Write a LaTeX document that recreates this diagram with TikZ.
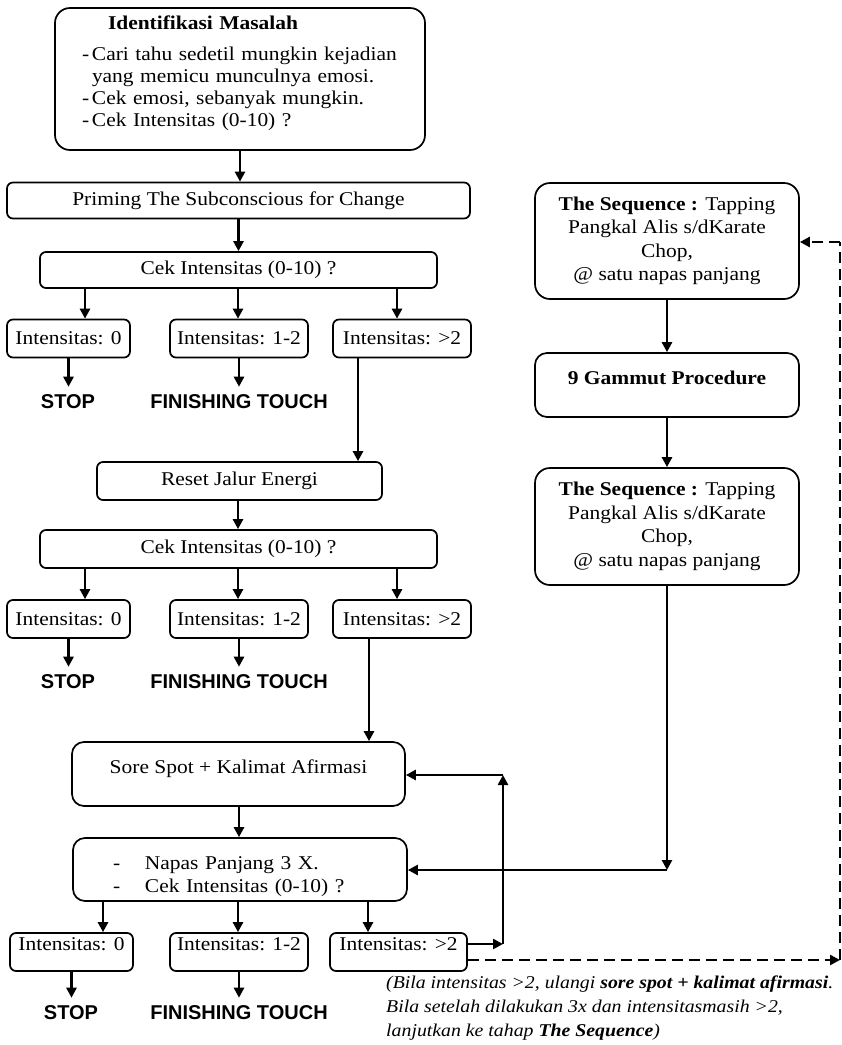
\documentclass[tikz,border=0pt]{standalone}
\usepackage{fontspec}
\setmainfont{Liberation Serif}[FakeStretch=1.1]
\newfontfamily\sansbold{Liberation Sans}
\usetikzlibrary{arrows.meta}
\tikzset{
  box/.style={draw, line width=1.7pt, rounded corners=6pt, inner sep=0pt, align=center},
  ibox/.style={box, minimum height=38pt},
  arr/.style={line width=2.6pt, -{Triangle[length=10pt,width=10pt]}},
  dashline/.style={line width=2.6pt, dash pattern=on 11pt off 6pt},
  dasharr/.style={dashline, -{Triangle[length=10pt,width=10pt]}},
  endtext/.style={font=\sansbold\bfseries\fontsize{20}{24}\selectfont, inner xsep=2pt, inner ysep=8pt}
}
\begin{document}
\begin{tikzpicture}[x=1pt,y=-1pt,font=\fontsize{19.5}{22}\selectfont]
\useasboundingbox (0,0) rectangle (842,1045);
\node[box, rounded corners=15pt, minimum height=142pt, inner xsep=27pt, text width=316pt, align=left] (ident) at (240,79)
  {\hspace*{26pt}\textbf{Identifikasi Masalah}\\[9pt]
   \makebox[10pt][l]{-}Cari tahu sedetil mungkin kejadian\\
   \hspace*{10pt}yang memicu munculnya emosi.\\
   \makebox[10pt][l]{-}Cek emosi, sebanyak mungkin.\\
   \makebox[10pt][l]{-}Cek Intensitas (0-10) ?\\[-7pt]\mbox{}};
\node[box, minimum width=463pt, minimum height=36pt] (priming) at (238.5,200.5) {Priming The Subconscious for Change};
\node[box, minimum width=397pt, minimum height=36pt] (cek1) at (238.5,270) {Cek Intensitas (0-10) ?};
\node[ibox, minimum width=123pt] (int01) at (68.5,338.5) {Intensitas: 0};
\node[ibox, minimum width=138pt] (int12a) at (239,338.5) {Intensitas: 1-2};
\node[ibox, minimum width=138pt] (int2a) at (402,338.5) {Intensitas: >2};
\node[endtext] (stop1) at (68,402) {STOP};
\node[endtext] (finish1) at (239,402) {FINISHING TOUCH};
\node[box, minimum width=285pt, minimum height=38pt] (reset) at (239.5,481) {Reset Jalur Energi};
\node[box, minimum width=397pt, minimum height=38pt] (cek2) at (238.5,549) {Cek Intensitas (0-10) ?};
\node[ibox, minimum width=123pt] (int02) at (68.5,619) {Intensitas: 0};
\node[ibox, minimum width=138pt] (int12b) at (239,619) {Intensitas: 1-2};
\node[ibox, minimum width=138pt] (int2b) at (402,619) {Intensitas: >2};
\node[endtext] (stop2) at (68,682) {STOP};
\node[endtext] (finish2) at (239,682) {FINISHING TOUCH};
\node[box, rounded corners=12pt, minimum width=333pt, minimum height=64pt, text depth=15pt] (sore) at (238.5,774) {Sore Spot + Kalimat Afirmasi};
\node[box, rounded corners=12pt, minimum height=63pt, inner xsep=40pt, text width=254pt, align=left, text height=27.5pt, font=\fontsize{19.5}{23}\selectfont] (napas) at (240,869.5)
  {\makebox[32pt][l]{-}Napas Panjang 3 X.\\ \makebox[32pt][l]{-}Cek Intensitas (0-10) ?};
\node[ibox, minimum width=123pt, text depth=16pt] (int03) at (71.5,952) {Intensitas: 0};
\node[ibox, minimum width=138pt, text depth=16pt] (int12c) at (239,952) {Intensitas: 1-2};
\node[ibox, minimum width=137pt, text depth=16pt] (int2c) at (398.5,952) {Intensitas: >2};
\node[endtext] (stop3) at (71,1013) {STOP};
\node[endtext] (finish3) at (239,1013) {FINISHING TOUCH};
\node[anchor=north west, align=left, inner sep=0pt, font=\itshape\fontsize{18}{24}\selectfont] (note) at (386,976)
  {(Bila intensitas >2, ulangi \textbf{sore spot + kalimat afirmasi}.\\
   Bila setelah dilakukan 3x dan intensitasmasih >2,\\
   lanjutkan ke tahap \textbf{The Sequence})};
\node[box, rounded corners=15pt, minimum width=264pt, minimum height=116pt, font=\fontsize{19.5}{23.5}\selectfont] (seq1) at (667,241)
  {\textbf{The Sequence :} Tapping\\ Pangkal Alis s/dKarate\\ Chop,\\ @ satu napas panjang};
\node[box, rounded corners=12pt, minimum width=264pt, minimum height=64pt, text height=14pt, text depth=16pt] (gammut) at (667,385) {\textbf{9 Gammut Procedure}};
\node[box, rounded corners=15pt, minimum width=264pt, minimum height=117pt, font=\fontsize{19.5}{23.5}\selectfont] (seq2) at (667,526.5)
  {\textbf{The Sequence :} Tapping\\ Pangkal Alis s/dKarate\\ Chop,\\ @ satu napas panjang};
\coordinate (loopb) at (503,944); \coordinate (loopt) at (503,775);
\coordinate (seqturn) at (667,870);
\coordinate (dashb) at (840,960); \coordinate (dasht) at (840,242);
\draw [arr] (ident.south) -- (ident.south |- priming.north);
\draw [arr] (priming.south) -- (priming.south |- cek1.north);
\draw [arr] (cek1.south -| 85,0) -- (int01.north -| 85,0); \draw [arr] (cek1.south -| 238,0) -- (int12a.north -| 238,0); \draw [arr] (cek1.south -| 397,0) -- (int2a.north -| 397,0);
\draw [arr] (int01.south) -- (int01.south |- stop1.north); \draw [arr] (int12a.south) -- (int12a.south |- finish1.north);
\draw [arr] (int2a.south -| 358,0) -- (reset.north -| 358,0);
\draw [arr] (reset.south -| 238,0) -- (cek2.north -| 238,0);
\draw [arr] (cek2.south -| 85,0) -- (int02.north -| 85,0); \draw [arr] (cek2.south -| 238,0) -- (int12b.north -| 238,0); \draw [arr] (cek2.south -| 397,0) -- (int2b.north -| 397,0);
\draw [arr] (int02.south) -- (int02.south |- stop2.north); \draw [arr] (int12b.south) -- (int12b.south |- finish2.north);
\draw [arr] (int2b.south -| 369,0) -- (sore.north -| 369,0);
\draw [arr] (sore.south -| 239,0) -- (napas.north -| 239,0);
\draw [arr] (napas.south -| 103,0) -- (int03.north -| 103,0); \draw [arr] (napas.south -| 238,0) -- (int12c.north -| 238,0); \draw [arr] (napas.south -| 368,0) -- (int2c.north -| 368,0);
\draw [arr] (int03.south) -- (int03.south |- stop3.north); \draw [arr] (int12c.south) -- (int12c.south |- finish3.north);
\draw [arr] (int2c.east |- loopb) -- (loopb); \draw [arr] (loopb) -- (loopt); \draw [arr] (loopt) -- (sore.east |- loopt);
\draw [arr] (seq1.south) -- (gammut.north); \draw [arr] (gammut.south) -- (seq2.north);
\draw [arr] (seq2.south) -- (seqturn); \draw [arr] (seqturn) -- (napas.east |- seqturn);
\draw [dasharr] (int2c.east |- dashb) -- (dashb); \draw [dashline] (dashb) -- (dasht); \draw [dasharr] (dasht) -- (seq1.east |- dasht);
\end{tikzpicture}
\end{document}
